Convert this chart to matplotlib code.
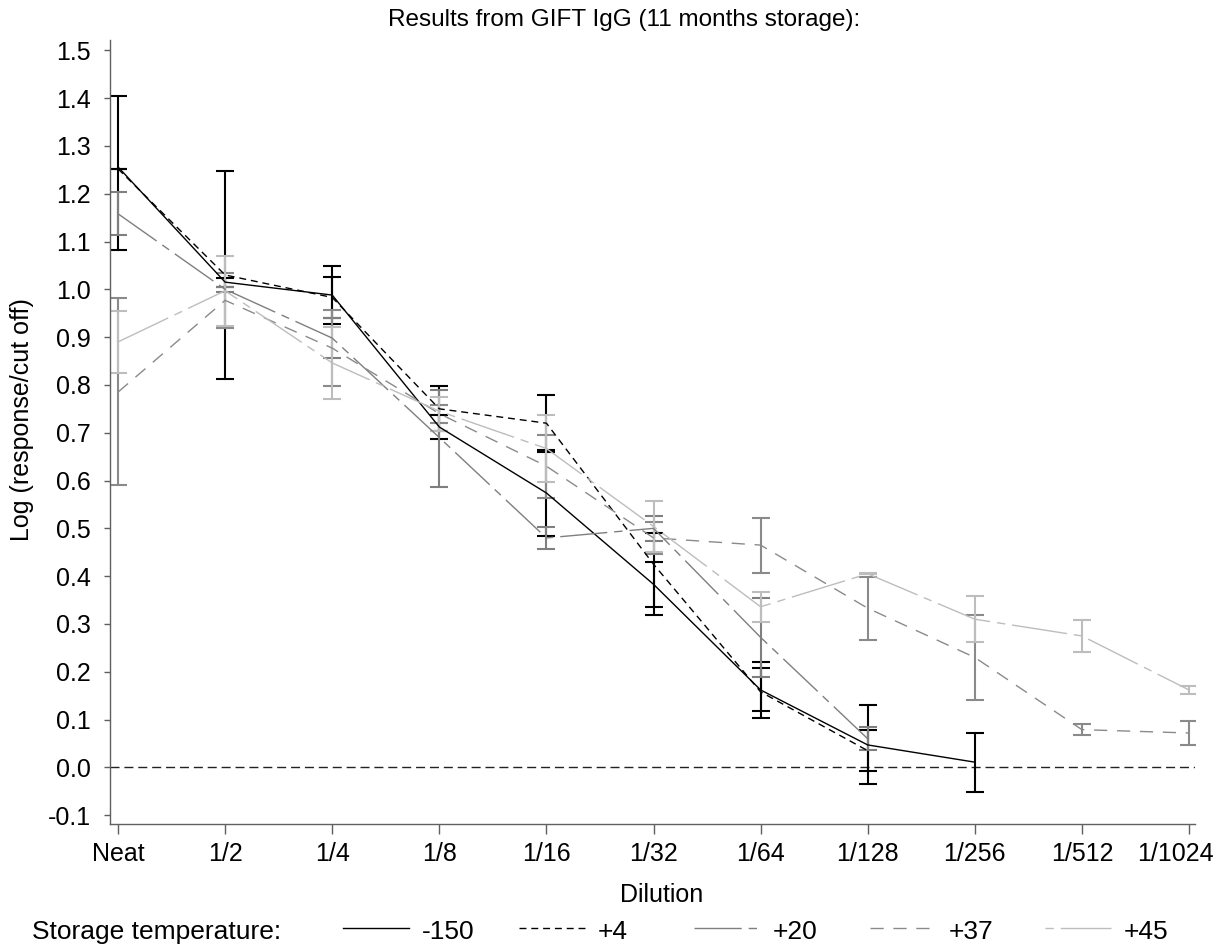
import numpy as np
import matplotlib
matplotlib.use("Agg")
import matplotlib.pyplot as plt
import matplotlib.transforms as mtransforms

plt.rcParams['font.family'] = ['Liberation Sans', 'DejaVu Sans']
plt.rcParams['axes.unicode_minus'] = False

# dilution steps on the x axis
dilutions = ["Neat", "1/2", "1/4", "1/8", "1/16", "1/32", "1/64",
             "1/128", "1/256", "1/512", "1/1024"]
temps = ["-150", "+4", "+20", "+37", "+45"]
nan = np.nan

# mean log(response/cut off) and error bar ends per storage temperature
mean_m150 = [1.256, 1.015, 0.988, 0.712, 0.574, 0.383, 0.162, 0.047, 0.011, nan, nan]
lo_m150 = [1.082, 1.005, 0.927, 0.687, 0.484, 0.336, 0.118, -0.035, -0.051, nan, nan]
hi_m150 = [1.405, 1.024, 1.049, 0.737, 0.664, 0.430, 0.207, 0.130, 0.072, nan, nan]

mean_p4 = [1.252, 1.030, 0.983, 0.750, 0.720, 0.425, 0.158, 0.035, nan, nan, nan]
lo_p4 = [1.252, 0.812, 0.939, 0.704, 0.659, 0.319, 0.103, -0.008, nan, nan, nan]
hi_p4 = [1.252, 1.248, 1.026, 0.798, 0.780, 0.491, 0.221, 0.078, nan, nan, nan]

mean_p20 = [1.158, 1.000, 0.898, 0.690, 0.480, 0.500, 0.272, 0.060, nan, nan, nan]
lo_p20 = [1.113, 0.995, 0.856, 0.587, 0.457, 0.474, 0.190, 0.036, nan, nan, nan]
hi_p20 = [1.204, 1.005, 0.939, 0.790, 0.503, 0.526, 0.355, 0.085, nan, nan, nan]

mean_p37 = [0.785, 0.977, 0.877, 0.740, 0.630, 0.480, 0.465, 0.333, 0.230, 0.079, 0.072]
lo_p37 = [0.590, 0.920, 0.798, 0.720, 0.564, 0.446, 0.407, 0.266, 0.141, 0.068, 0.047]
hi_p37 = [0.981, 1.034, 0.957, 0.759, 0.695, 0.513, 0.522, 0.399, 0.319, 0.090, 0.098]

mean_p45 = [0.890, 0.997, 0.846, 0.745, 0.667, 0.504, 0.336, 0.405, 0.310, 0.275, 0.162]
lo_p45 = [0.826, 0.923, 0.770, 0.704, 0.597, 0.451, 0.305, 0.404, 0.262, 0.242, 0.153]
hi_p45 = [0.955, 1.070, 0.922, 0.775, 0.737, 0.557, 0.367, 0.406, 0.358, 0.308, 0.171]

means = [mean_m150, mean_p4, mean_p20, mean_p37, mean_p45]
lows = [lo_m150, lo_p4, lo_p20, lo_p37, lo_p45]
highs = [hi_m150, hi_p4, hi_p20, hi_p37, hi_p45]

# styles
colors = ['black', 'black', '#7f7f7f', '#8a8a8a', '#bdbdbd']
styles = ['-', (0, (5, 3.5)), (0, (34, 5, 6, 5)), (0, (9.5, 7)), (0, (40, 5, 6, 5))]
legend_styles = ['-', (0, (5, 3.5)), (0, (34, 5, 6, 5)), (0, (9.5, 7)), (45, (40, 5, 6, 5))]

W, H = 1224, 947
fig = plt.figure(figsize=(W / 100, H / 100), dpi=100)
ax = fig.add_axes([110 / W, 1 - 824.3 / H, 1085 / W, 784.3 / H])

x = np.arange(len(dilutions))
for i in range(len(temps)):
    m = np.array(means[i])
    lo = np.array(lows[i])
    hi = np.array(highs[i])
    ax.plot(x, m, color=colors[i], linestyle=styles[i], lw=1.0, zorder=3)
    ax.errorbar(x, m, yerr=[m - lo, hi - m], fmt='none', ecolor=colors[i],
                elinewidth=1.5, capsize=6.8, capthick=1.5, zorder=2)

# cut off reference line
ax.axhline(0.0, color='#222222', lw=1.0, linestyle=(0, (6.5, 3.5)), zorder=1)

ax.set_xlim(-0.075, 10.056)
ax.set_ylim(-0.119, 1.5215)
ax.set_xticks(x)
ax.set_xticklabels(dilutions)
yt = np.round(np.arange(-0.1, 1.51, 0.1), 1)
ax.set_yticks(yt)
ax.set_yticklabels(["%.1f" % v for v in yt])

for s in ['top', 'right']:
    ax.spines[s].set_visible(False)
for s in ['left', 'bottom']:
    ax.spines[s].set_color('#606060')
    ax.spines[s].set_linewidth(1.0)
ax.tick_params(axis='x', direction='out', length=7, width=1, color='#606060',
               labelsize=18, pad=6)
ax.tick_params(axis='y', direction='out', length=4, width=1, color='#606060',
               labelsize=18, pad=10)

# last label is pulled left so it stays inside the figure
last = ax.get_xticklabels()[-1]
last.set_transform(last.get_transform() +
                   mtransforms.ScaledTranslation(-0.14, 0, fig.dpi_scale_trans))

fig.text(624 / W, 1 - 20 / H, "Results from GIFT IgG (11 months storage):",
         ha='center', va='center', fontsize=17.5)
fig.text(22 / W, 1 - 420 / H, "Log (response/cut off)", rotation=90,
         ha='center', va='center', fontsize=18)
fig.text(662 / W, 1 - 895 / H, "Dilution", ha='center', va='center', fontsize=18)

# legend row along the bottom
leg = fig.add_axes([0, 0, 1, 1], facecolor='none')
leg.set_xlim(0, W)
leg.set_ylim(H, 0)
leg.axis('off')
leg.text(32, 932, "Storage temperature:", ha='left', va='center', fontsize=19)
for i in range(len(temps)):
    x0 = 343 + 175.5 * i
    leg.plot([x0, x0 + 66], [928, 928], color=colors[i],
             linestyle=legend_styles[i], lw=1.0)
    leg.text(x0 + 79, 932, temps[i], ha='left', va='center', fontsize=19)

fig.savefig("out.png", dpi=100)
